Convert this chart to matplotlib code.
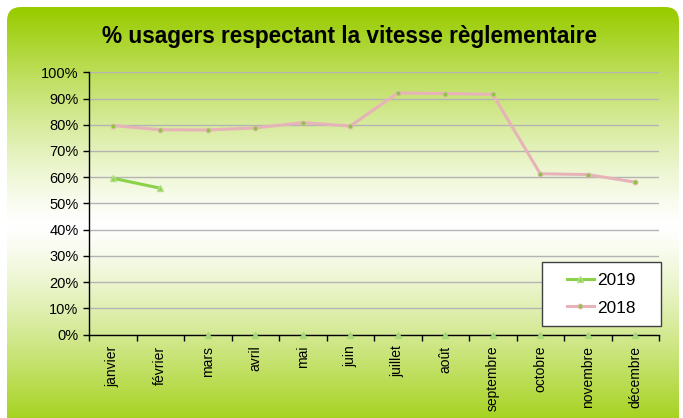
import numpy as np
import matplotlib
matplotlib.use("Agg")
import matplotlib.pyplot as plt
from matplotlib.patches import FancyBboxPatch, Rectangle

plt.rcParams['font.family'] = ['Liberation Sans', 'DejaVu Sans']

months = ['janvier', 'février', 'mars', 'avril', 'mai', 'juin', 'juillet',
          'août', 'septembre', 'octobre', 'novembre', 'décembre']
v2018 = [79.7, 78.1, 78.0, 78.8, 80.8, 79.5, 92.1, 91.9, 91.6, 61.3, 61.0, 58.1]
v2019 = [59.6, 55.8, None, None, None, None, None, None, None, None, None, None]
yticks = [0, 10, 20, 30, 40, 50, 60, 70, 80, 90, 100]

W, H = 683, 418
fig = plt.figure(figsize=(W / 100, H / 100), dpi=100)
fig.patch.set_facecolor('white')

# background gradient: green at top and bottom, white in the middle
bg = fig.add_axes([0, 0, 1, 1])
bg.set_xlim(0, W)
bg.set_ylim(H, 0)
bg.axis('off')
green = np.array([153, 204, 0]) / 255
white = np.array([1.0, 1.0, 1.0])
ys = np.arange(H)
t = np.clip(np.abs(ys - 225) / 215, 0, 1)
f = t ** 1.25
grad = white[None, :] * (1 - f[:, None]) + green[None, :] * f[:, None]
img = np.repeat(grad[:, None, :], 2, axis=1)
im = bg.imshow(img, extent=[0, W, H, 0], aspect='auto', zorder=0)
box = FancyBboxPatch((7, 7), 672, 440, boxstyle='round,pad=0,rounding_size=14',
                     transform=bg.transData, facecolor='none', edgecolor='none')
bg.add_patch(box)
im.set_clip_path(box)

fig.text(349 / W, 1 - 37 / H, '% usagers respectant la vitesse règlementaire',
         ha='center', va='center', fontsize=16.3, fontweight='bold')

ax = fig.add_axes([89 / W, 1 - 334.5 / H, 570 / W, 262.2 / H])
ax.patch.set_alpha(0)
x = np.arange(len(months))

l18, = ax.plot(x, v2018, color='#e6b3b8', linewidth=2.2, marker='o', markersize=3.5,
               markerfacecolor='#8cc63f', markeredgecolor='#e6b3b8', markeredgewidth=0.6,
               label='2018', zorder=3)
y19 = np.array([np.nan if v is None else v for v in v2019])
l19, = ax.plot(x, y19, color='#8cd14a', linewidth=2.2, marker='^', markersize=4,
               markerfacecolor='#8cd14a', markeredgecolor='#b5e08a', label='2019', zorder=4)
missing = [i for i, v in enumerate(v2019) if v is None]
ax.plot(missing, [0] * len(missing), linestyle='none', marker='^', markersize=4,
        color='#a8d878', zorder=5, clip_on=False)

ax.set_xlim(-0.5, len(months) - 0.5)
ax.set_ylim(0, 100)
ax.set_yticks(yticks)
ax.set_yticklabels([f'{v}%' for v in yticks], fontsize=10.5)
ax.yaxis.grid(True, color='#b4b4b4', linewidth=1)
ax.set_axisbelow(True)

ax.set_xticks(x)
ax.set_xticklabels(months, rotation=90, fontsize=10)
ax.tick_params(axis='x', length=0, pad=8)
ax.set_xticks(np.arange(len(months) + 1) - 0.5, minor=True)
ax.tick_params(axis='x', which='minor', length=4, width=1, color='black', direction='out')
ax.tick_params(axis='y', length=4, width=1, direction='out')

for s in ['top', 'right']:
    ax.spines[s].set_visible(False)
for s in ['left', 'bottom']:
    ax.spines[s].set_color('black')
    ax.spines[s].set_linewidth(1)

# legend box
fig.add_artist(Rectangle((542 / W, 1 - 326 / H), 119 / W, 64 / H,
                         transform=fig.transFigure, facecolor='white',
                         edgecolor='#404040', linewidth=1, zorder=6))
leg = fig.legend([l19, l18], ['2019', '2018'], loc='center',
                 bbox_to_anchor=(601 / W, 1 - 294 / H), fontsize=12.4,
                 frameon=False, handlelength=1.6, handletextpad=0.15,
                 labelspacing=0.75, borderpad=0)
leg.set_zorder(7)

fig.savefig('out.png', dpi=100)
